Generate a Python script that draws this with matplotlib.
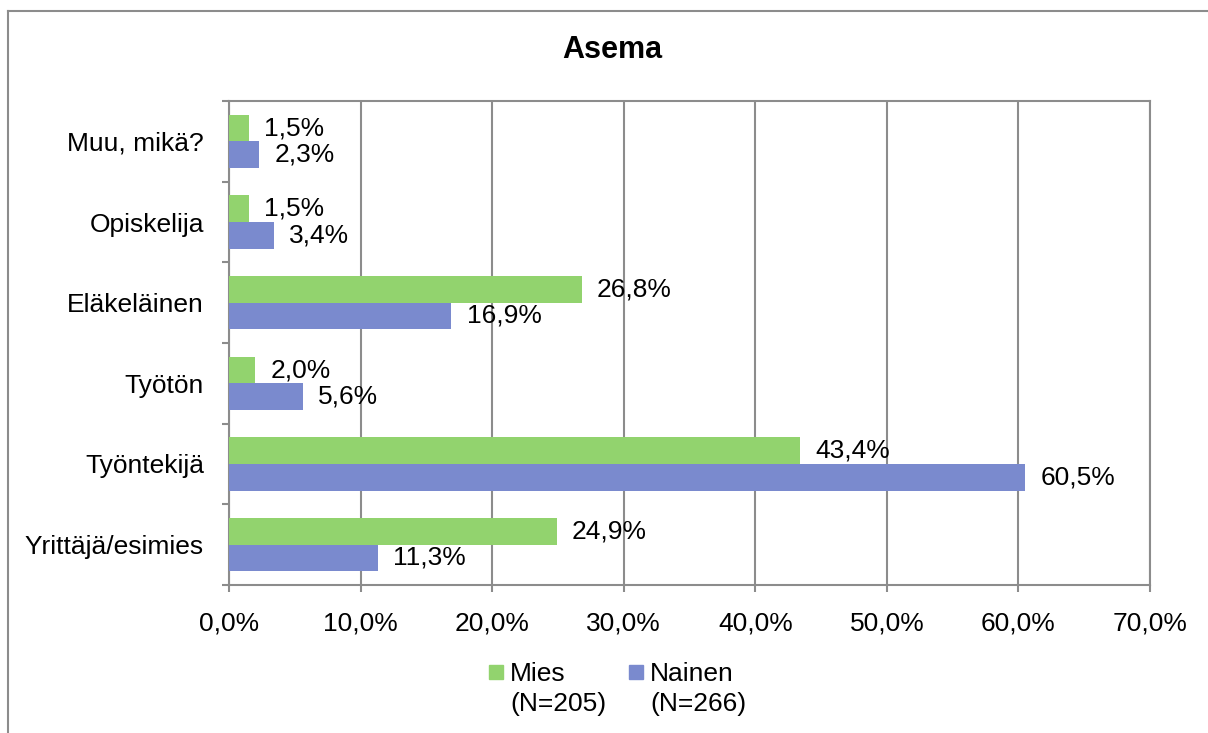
import matplotlib.pyplot as plt
from matplotlib.patches import Rectangle
from matplotlib.lines import Line2D
import numpy as np

plt.rcParams['font.family'] = ['Liberation Sans', 'DejaVu Sans']

GREEN = '#92D36E'
BLUE = '#7A8ACE'
GRID = '#8C8C8C'

# bottom to top, as drawn
categories = ['Yrittäjä/esimies', 'Työntekijä', 'Työtön', 'Eläkeläinen',
              'Opiskelija', 'Muu, mikä?']
mies = [24.9, 43.4, 2.0, 26.8, 1.5, 1.5]
nainen = [11.3, 60.5, 5.6, 16.9, 3.4, 2.3]
xticks = [0, 10, 20, 30, 40, 50, 60, 70]

FS = 19

W, H = 1208, 733
fig = plt.figure(figsize=(W / 100, H / 100), dpi=100)
ax = fig.add_axes([229 / W, 1 - 585 / H, (1150 - 229) / W, (585 - 101) / H])

y = np.arange(len(categories))
bh = 0.33
ax.barh(y + bh / 2, mies, height=bh, color=GREEN, zorder=3)
ax.barh(y - bh / 2, nainen, height=bh, color=BLUE, zorder=3)

for yi, v in zip(y, mies):
    ax.annotate(f'{v:.1f}%'.replace('.', ','), (v, yi + bh / 2), xytext=(11, 0),
                textcoords='offset points', va='center', ha='left', fontsize=FS)
for yi, v in zip(y, nainen):
    ax.annotate(f'{v:.1f}%'.replace('.', ','), (v, yi - bh / 2), xytext=(11, 0),
                textcoords='offset points', va='center', ha='left', fontsize=FS)

ax.set_xlim(0, 70)
ax.set_ylim(-0.5, len(categories) - 0.5)
ax.set_xticks(xticks)
ax.set_xticklabels([f'{t:.1f}%'.replace('.', ',') for t in xticks], fontsize=FS)
ax.set_yticks(y)
ax.set_yticklabels(categories, fontsize=FS)
ax.set_yticks(np.arange(len(categories) + 1) - 0.5, minor=True)
ax.tick_params(axis='y', which='major', length=0, pad=25 * 0.72)
ax.tick_params(axis='y', which='minor', length=5, width=1.5, color=GRID)
ax.tick_params(axis='x', length=5, width=1.5, color=GRID, pad=14)

ax.grid(axis='x', color=GRID, linewidth=1.5, zorder=0)
for s in ax.spines.values():
    s.set_color(GRID)
    s.set_linewidth(1.5)

fig.text(612 / W, 1 - 50 / H, 'Asema', ha='center', va='center',
         fontsize=22, fontweight='bold')

# outer chart frame (only top and left visible)
fig.add_artist(Line2D([8 / W, 1.0], [1 - 11 / H] * 2, color=GRID, lw=1.5,
                      transform=fig.transFigure))
fig.add_artist(Line2D([8 / W] * 2, [0, 1 - 11 / H], color=GRID, lw=1.5,
                      transform=fig.transFigure))

# legend
for x0, col, lab in [(489, GREEN, 'Mies\n(N=205)'), (629, BLUE, 'Nainen\n(N=266)')]:
    fig.add_artist(Rectangle((x0 / W, 1 - 679 / H), 14 / W, 14 / H,
                             color=col, transform=fig.transFigure))
    line1, line2 = lab.split('\n')
    fig.text((x0 + 21) / W, 1 - 681 / H, line1, ha='left', va='baseline', fontsize=FS)
    fig.text((x0 + 21) / W, 1 - 711 / H, line2, ha='left', va='baseline', fontsize=FS)

fig.savefig('out.png', dpi=100, facecolor='white')
